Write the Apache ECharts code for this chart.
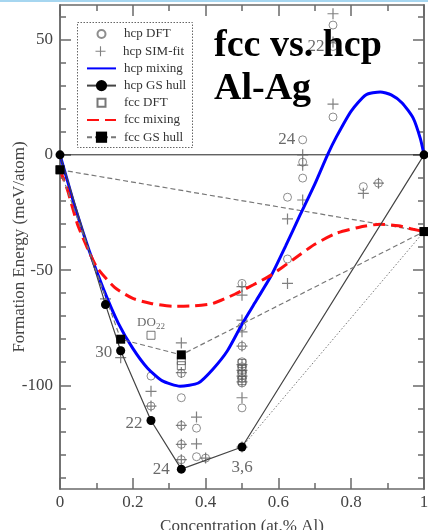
<!DOCTYPE html>
<html>
<head>
<meta charset="utf-8">
<script src="https://cdn.jsdelivr.net/npm/echarts@6/dist/echarts.min.js"></script>
<style>html,body{margin:0;padding:0;background:#fff;}#c{width:428px;height:530px;}</style>
</head>
<body>
<div id="c"></div>
<script>
// ---- data ----
const yMajorTicks = [-100, -50, 0, 50];
const yMinorTicks = [-140, -130, -120, -110, -90, -80, -70, -60, -40, -30, -20, -10, 10, 20, 30, 40, 60];
const legendNames = ['hcp DFT','hcp SIM-fit','hcp mixing','hcp GS hull','fcc DFT','fcc mixing','fcc GS hull'];

const hcpDFT = [[0.125,-65],[0.1667,-85],[0.25,-96],[0.25,-109],[0.3333,-94.8],[0.3333,-105.4],[0.3333,-117.4],[0.3333,-125.6],[0.3333,-132.3],[0.375,-118.6],[0.375,-131],[0.4,-131.6],[0.5,-55.8],[0.5,-74.6],[0.5,-83],[0.5,-89.8],[0.5,-92],[0.5,-94.5],[0.5,-97],[0.5,-99],[0.5,-109.8],[0.625,-18.4],[0.625,-45.2],[0.6667,6.5],[0.6667,-3.2],[0.6667,-10.1],[0.75,56.3],[0.75,47],[0.75,16.4],[0.8333,-13.8],[0.875,-12.3]];
const hcpSIM = [[0.125,-62.5],[0.1667,-88],[0.25,-102.6],[0.25,-109],[0.3333,-81.6],[0.3333,-94.5],[0.3333,-117.4],[0.3333,-125.6],[0.3333,-132.3],[0.375,-113.8],[0.375,-125.4],[0.4,-131.6],[0.5,-57.2],[0.5,-60.9],[0.5,-71.7],[0.5,-76.8],[0.5,-83],[0.5,-91],[0.5,-93.5],[0.5,-96],[0.5,-98.5],[0.5,-105.4],[0.5,-126.8],[0.625,-27.8],[0.625,-55.8],[0.6667,0],[0.6667,-4.5],[0.6667,-19.6],[0.75,61.2],[0.75,49],[0.75,22],[0.8333,-16.7],[0.875,-12.3]];
const fccDFT = [[0,-6.5],[0.25,-78.3],[0.3333,-89.3],[0.3333,-91.5],[0.5,-90.5],[0.5,-93],[0.5,-95.5],[0.5,-98],[1,-33.3]];
const hcpMixX = [0, 0.02, 0.04, 0.08, 0.12, 0.16, 0.2, 0.24, 0.28, 0.33, 0.38, 0.42, 0.46, 0.5, 0.54, 0.58, 0.62, 0.66, 0.7, 0.735, 0.76, 0.8, 0.84, 0.88, 0.91, 0.94, 0.97, 0.99, 1];
const hcpMixY = [0, -11, -22, -41.5, -58.5, -73, -84, -92.5, -98, -100.4, -99, -93, -85, -73.5, -63, -52.5, -39.5, -26, -12.7, 0, 8, 19, 26, 27.3, 26, 22.5, 16, 7, 0];
const fccMixX = [0, 0.02, 0.05, 0.1, 0.15, 0.2, 0.25, 0.31, 0.37, 0.42, 0.48, 0.53, 0.58, 0.64, 0.7, 0.76, 0.82, 0.88, 0.93, 0.97, 1];
const fccMixY = [-6.5, -15, -31, -48.5, -57.5, -62.3, -64.5, -65.7, -65.5, -64.5, -60.5, -56.5, -52.2, -45.5, -38.8, -34, -31.5, -30.1, -30.8, -32.3, -33.3];
const hcpHull = [[0,0],[0.125,-65],[0.1667,-85],[0.25,-115.3],[0.3333,-136.4],[0.5,-126.8],[1,0]];
const fccHull = [[0,-6.5],[0.1667,-80],[0.3333,-86.8],[1,-33.3]];
const fccTie = [[0,-6.5],[1,-33.3]];
const dottedTie = [[0.5,-126.8],[1,-33.3]];
const zeroLine = [[0,0],[1,0]];
const annotations = [[0.1667,-85,'30'],[0.25,-115.3,'22'],[0.3333,-136.4,'24'],[0.5,-126.8,'3,6'],[0.6667,6.5,'24'],[0.75,47,'22'],[0.25,-78.3,'DO{s|22}']];

// ---- styles ----
const SERIF = 'Liberation Serif';
const frame = '#6a6a6a';
const annotStyle = [
  {position:'left', distance:8, offset:[0,2]},
  {position:'left', distance:8, offset:[0,3]},
  {position:'left', distance:11, offset:[0,0]},
  {position:'bottom', distance:11, offset:[0,0]},
  {position:'left', distance:7, offset:[0,0]},
  {position:'left', distance:8, offset:[0,0]},
  {position:'top', distance:4, offset:[0,0], fontSize:13}
];
// per-legend-row icon box (width, height); line rows use a 29px sample
const legendIconW = [8, 10, 29, 29, 8, 29, 29];
const legendIconH = [8, 10, 14, 14, 8, 14, 14];
const plusPath = 'path://M0,4.45H10V5.55H0Z M4.45,0H5.55V10H4.45Z';
const squarePath = 'path://M0,0H10V10H0Z';
const zip = (xs, ys) => xs.map((x, i) => [x, ys[i]]);

function yAxisDef(pos, ticks, len, labels) {
  return {
    type:'value', min:-145, max:65, position:pos,
    axisLine:{show:true, onZero:false, lineStyle:{color:frame, width:1.5}},
    axisTick:{show:true, inside:true, length:len, customValues:ticks, lineStyle:{color:frame, width:1.5}},
    axisLabel:{show:labels, customValues:ticks, fontFamily:SERIF, fontSize:17, color:'#444', margin:7},
    splitLine:{show:false},
    name: labels ? 'Formation Energy (meV/atom)' : '',
    nameLocation:'middle', nameGap:32, nameMoveOverlap:false,
    nameTextStyle:{fontFamily:SERIF, fontSize:17, color:'#444'}
  };
}
function xAxisDef(pos, labels) {
  return {
    type:'value', min:0, max:1, interval:0.2, position:pos,
    axisLine:{show:true, onZero:false, lineStyle:{color:frame, width:1.5}},
    axisTick:{show:true, inside:true, length:11, lineStyle:{color:frame, width:1.5}},
    minorTick:{show:true, splitNumber:2, length:6, lineStyle:{color:frame, width:1.5}},
    axisLabel:{show:labels, fontFamily:SERIF, fontSize:17, color:'#444', margin:5},
    splitLine:{show:false}, minorSplitLine:{show:false},
    name: labels ? 'Concentration (at.% Al)' : '',
    nameLocation:'middle', nameGap:29, nameMoveOverlap:false,
    nameTextStyle:{fontFamily:SERIF, fontSize:17, color:'#444'}
  };
}

const legends = legendNames.map((n, i) => {
  const w = legendIconW[i];
  const left = 100.5 - w / 2;
  return {
    orient:'vertical', left:left, top:34 + i * 17.2 - 7.5, padding:0,
    itemWidth:w, itemHeight:legendIconH[i], selectedMode:false,
    textStyle:{fontFamily:SERIF, fontSize:13, color:'#333', padding:[0,0,0,123 - (left + w + 5)], lineHeight:15},
    data:[n]
  };
});

const chart = echarts.init(document.getElementById('c'), null, {renderer:'canvas'});
chart.setOption({
  animation:false,
  backgroundColor:'#fff',
  grid:{left:60, right:4, top:5, bottom:41, outerBoundsMode:'none', containLabel:false},
  title:{text:'fcc vs. hcp\nAl-Ag', left:214, top:25, padding:0, z:20,
    textStyle:{fontFamily:SERIF, fontWeight:'bold', fontSize:38, lineHeight:43, color:'#000'}},
  legend:legends,
  graphic:[
    {type:'rect', shape:{x:0, y:0, width:428, height:2}, style:{fill:'#a6d6f0'}, z:30},
    {type:'rect', shape:{x:77.5, y:22.5, width:115, height:125}, style:{fill:'none', stroke:'#666', lineWidth:1, lineDash:[1.5,1.5]}, z:30}
  ],
  xAxis:[xAxisDef('bottom', true), xAxisDef('top', false)],
  yAxis:[
    yAxisDef('left', yMajorTicks, 11, true),
    yAxisDef('left', yMinorTicks, 6, false),
    yAxisDef('right', yMajorTicks, 11, false),
    yAxisDef('right', yMinorTicks, 6, false)
  ],
  series:[
    {type:'line', data:zeroLine, symbol:'none', silent:true, z:1, lineStyle:{color:'#222', width:1}},
    {type:'line', data:fccTie, symbol:'none', silent:true, z:1, lineStyle:{color:'#777', width:1.2, type:[5,3]}},
    {type:'line', data:dottedTie, symbol:'none', silent:true, z:1, lineStyle:{color:'#777', width:1, type:[1.5,2]}},
    {name:'hcp DFT', type:'scatter', data:hcpDFT, symbol:'circle', symbolSize:8, z:3,
      itemStyle:{color:'rgba(255,255,255,0)', borderColor:'#707070', borderWidth:1}},
    {name:'hcp SIM-fit', type:'scatter', data:hcpSIM, symbol:plusPath, symbolSize:11, z:3,
      itemStyle:{color:'#606060'}},
    {name:'fcc DFT', type:'scatter', data:fccDFT, symbol:squarePath, symbolSize:8, symbolKeepAspect:true, z:3,
      itemStyle:{color:'rgba(255,255,255,0)', borderColor:'#555', borderWidth:1}},
    {name:'hcp mixing', type:'line', data:zip(hcpMixX, hcpMixY), symbol:'none', smooth:0.2, z:5,
      lineStyle:{color:'#0000ff', width:3}, itemStyle:{color:'rgba(0,0,0,0)'}},
    {name:'fcc mixing', type:'line', data:zip(fccMixX, fccMixY), symbol:'none', smooth:0.2, z:5,
      lineStyle:{color:'#ff1010', width:3, type:[12,6]}, itemStyle:{color:'rgba(0,0,0,0)'}},
    {name:'hcp GS hull', type:'line', data:hcpHull, symbol:'circle', symbolSize:9, z:6,
      lineStyle:{color:'#444', width:1.2}, itemStyle:{color:'#000'}},
    {name:'fcc GS hull', type:'line', data:fccHull, symbol:'rect', symbolSize:9, z:6,
      lineStyle:{color:'#777', width:1.2, type:[5,3]}, itemStyle:{color:'#000'}},
    {type:'scatter', silent:true, z:7, symbol:'circle', symbolSize:1, itemStyle:{color:'rgba(0,0,0,0)'},
      data: annotations.map((a, i) => ({
        value:[a[0], a[1]],
        label:{show:true, formatter:a[2], position:annotStyle[i].position, distance:annotStyle[i].distance,
          offset:annotStyle[i].offset, fontFamily:SERIF, fontSize:annotStyle[i].fontSize || 17, color:'#444',
          rich:{s:{fontFamily:SERIF, fontSize:9, color:'#444', verticalAlign:'bottom', padding:[8,0,0,0]}}}
      }))
    }
  ]
});
</script>
</body>
</html>
